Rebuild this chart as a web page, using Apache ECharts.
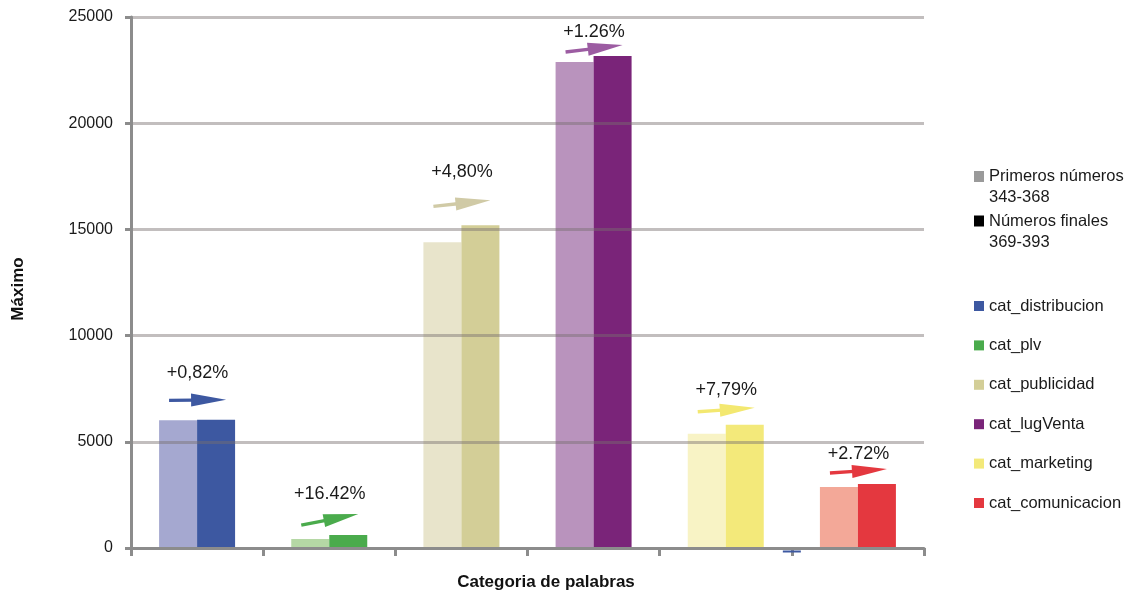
<!DOCTYPE html>
<html>
<head>
<meta charset="utf-8">
<script src="https://cdn.jsdelivr.net/npm/echarts@6/dist/echarts.min.js"></script>
<style>
  html, body { margin: 0; padding: 0; background: #fff; }
  #chart { width: 1133px; height: 591px; }
</style>
</head>
<body>
<div id="chart"></div>
<script>
// Word categories and the maximum reached in each period
const categories = ['cat_distribucion', 'cat_plv', 'cat_publicidad', 'cat_lugVenta', 'cat_marketing', 'cat_comunicacion'];
const firstValues = [6010, 420, 14390, 22880, 5380, 2870];
const finalValues = [6040, 610, 15190, 23160, 5800, 3010];
const changeLabels = ['+0,82%', '+16.42%', '+4,80%', '+1.26%', '+7,79%', '+2.72%'];
const periodNames = ['Primeros números\n343-368', 'Números finales\n369-393'];
const yTicks = [0, 5000, 10000, 15000, 20000, 25000];

// Colours per category: early period (light), late period (dark), arrow
const lightColors = ['#a5a8d0', '#b5d8a5', '#e8e4cb', '#b993bd', '#f8f3c5', '#f3a898'];
const darkColors  = ['#3d58a1', '#4aab4c', '#d3ce97', '#7a2479', '#f3e97a', '#e4383f'];
const arrowColors = ['#3d58a1', '#4aab4c', '#d0caa6', '#9c5ca2', '#f3e870', '#e4383f'];
// Arrow placement above each pair of bars, in px: [over first bar, over second bar, label above arrow]
const arrowLift = [[20, 20, 27], [14, 21, 26], [36, 25, 31], [10, 11, 17], [22, 17, 20], [14, 15, 17]];

const FONT = 'Liberation Sans, Arial, Helvetica, sans-serif';
const AXIS_GRAY = '#8c8c8c';

const chart = echarts.init(document.getElementById('chart'), null, { renderer: 'canvas' });

// Draws the growth arrow and its percentage label above a pair of bars
function renderArrow(params, api) {
  const i = api.value(0);
  const p0 = api.coord([i, api.value(1)]);
  const p1 = api.coord([i, api.value(2)]);
  const lift = arrowLift[i];
  const x0 = p0[0] - 28, y0 = p0[1] - lift[0];
  const x1 = p0[0] + 29, y1 = p1[1] - lift[1];
  const dx = x1 - x0, dy = y1 - y0;
  const len = Math.sqrt(dx * dx + dy * dy);
  const ux = dx / len, uy = dy / len;
  const nx = -uy, ny = ux;
  const headLen = 35, headHalf = 6.5;
  const bx = x1 - ux * headLen, by = y1 - uy * headLen;
  const color = api.visual('color');
  return {
    type: 'group',
    children: [
      {
        type: 'line',
        shape: { x1: x0, y1: y0, x2: bx + ux * 2, y2: by + uy * 2 },
        style: { stroke: color, lineWidth: 3.4 }
      },
      {
        type: 'polygon',
        shape: { points: [[bx + nx * headHalf, by + ny * headHalf], [x1, y1], [bx - nx * headHalf, by - ny * headHalf]] },
        style: { fill: color }
      },
      {
        type: 'text',
        style: {
          text: changeLabels[i],
          x: (x0 + x1) / 2,
          y: (y0 + y1) / 2 - lift[2],
          align: 'center',
          verticalAlign: 'middle',
          fill: '#1a1a1a',
          font: '18px ' + FONT
        }
      }
    ]
  };
}

const arrowSeries = categories.map((name, i) => ({
  type: 'custom',
  name: name,
  renderItem: renderArrow,
  encode: { x: 0, y: [1, 2] },
  itemStyle: { color: arrowColors[i] },
  data: [[i, firstValues[i], finalValues[i]]],
  z: 5,
  clip: false,
  silent: true
}));

const legendText = { fontFamily: FONT, fontSize: 16.5, color: '#1a1a1a' };

const option = {
  backgroundColor: '#fff',
  animation: false,
  grid: { left: 131, right: 209, top: 17, bottom: 43, outerBoundsMode: 'none' },
  legend: [
    {
      left: 974, top: 145, orient: 'vertical', padding: 0,
      itemWidth: 10, itemHeight: 11, icon: 'rect', selectedMode: false,
      data: [{ name: periodNames[0], itemStyle: { color: '#9a9a9a' } }],
      formatter: n => '\n' + n,
      textStyle: Object.assign({ lineHeight: 21 }, legendText)
    },
    {
      left: 974, top: 189.5, orient: 'vertical', padding: 0,
      itemWidth: 10, itemHeight: 11, icon: 'rect', selectedMode: false,
      data: [{ name: periodNames[1], itemStyle: { color: '#000' } }],
      formatter: n => '\n' + n,
      textStyle: Object.assign({ lineHeight: 21 }, legendText)
    },
    {
      left: 974, top: 296, orient: 'vertical', padding: 0,
      itemWidth: 10, itemHeight: 10, itemGap: 19.4, icon: 'rect', selectedMode: false,
      data: categories.map((c, i) => ({ name: c, itemStyle: { color: darkColors[i] } })),
      textStyle: Object.assign({ lineHeight: 20 }, legendText)
    }
  ],
  xAxis: {
    type: 'category',
    data: categories,
    boundaryGap: true,
    z: 3,
    axisLine: { show: true, lineStyle: { color: AXIS_GRAY, width: 3 } },
    axisTick: { show: true, length: 8, lineStyle: { color: AXIS_GRAY, width: 3 } },
    axisLabel: { show: false },
    splitLine: { show: false },
    name: 'Categoria de palabras',
    nameLocation: 'middle',
    nameGap: 26,
    nameTextStyle: { fontFamily: FONT, fontSize: 17, fontWeight: 'bold', color: '#111', padding: [0, 0, 0, 37] }
  },
  yAxis: {
    type: 'value',
    min: yTicks[0],
    max: yTicks[yTicks.length - 1],
    interval: yTicks[1] - yTicks[0],
    z: 3,
    axisLine: { show: true, lineStyle: { color: AXIS_GRAY, width: 3 } },
    axisTick: { show: true, length: 6, lineStyle: { color: AXIS_GRAY, width: 3 } },
    axisLabel: { fontFamily: FONT, fontSize: 16, color: '#1a1a1a', margin: 18, formatter: v => String(v) },
    splitLine: { show: true, lineStyle: { color: 'rgba(120,110,110,0.45)', width: 3 } },
    name: 'Máximo',
    nameLocation: 'middle',
    nameGap: 104,
    nameRotate: 90,
    nameTextStyle: { fontFamily: FONT, fontSize: 17, fontWeight: 'bold', color: '#111', padding: [0, 13, 0, 0] }
  },
  series: [
    {
      type: 'bar',
      name: periodNames[0],
      barWidth: 38,
      barGap: '0%',
      itemStyle: { color: '#9a9a9a' },
      emphasis: { disabled: true },
      data: firstValues.map((v, i) => ({ value: v, itemStyle: { color: lightColors[i] } }))
    },
    {
      type: 'bar',
      name: periodNames[1],
      barWidth: 38,
      barGap: '0%',
      itemStyle: { color: '#000' },
      emphasis: { disabled: true },
      data: finalValues.map((v, i) => ({ value: v, itemStyle: { color: darkColors[i] } }))
    }
  ].concat(arrowSeries)
};

chart.setOption(option);

// Small blue dash under the axis, between the marketing and comunicacion groups
const xa = chart.convertToPixel({ xAxisIndex: 0 }, categories[4]);
const xb = chart.convertToPixel({ xAxisIndex: 0 }, categories[5]);
const y0 = chart.convertToPixel({ yAxisIndex: 0 }, 0);
const xm = (xa + xb) / 2;
chart.setOption({
  graphic: [{
    type: 'line',
    z: 10,
    shape: { x1: xm - 9, y1: y0 + 3.5, x2: xm + 9, y2: y0 + 3.5 },
    style: { stroke: '#3d58a1', lineWidth: 2 }
  }]
});
</script>
</body>
</html>
